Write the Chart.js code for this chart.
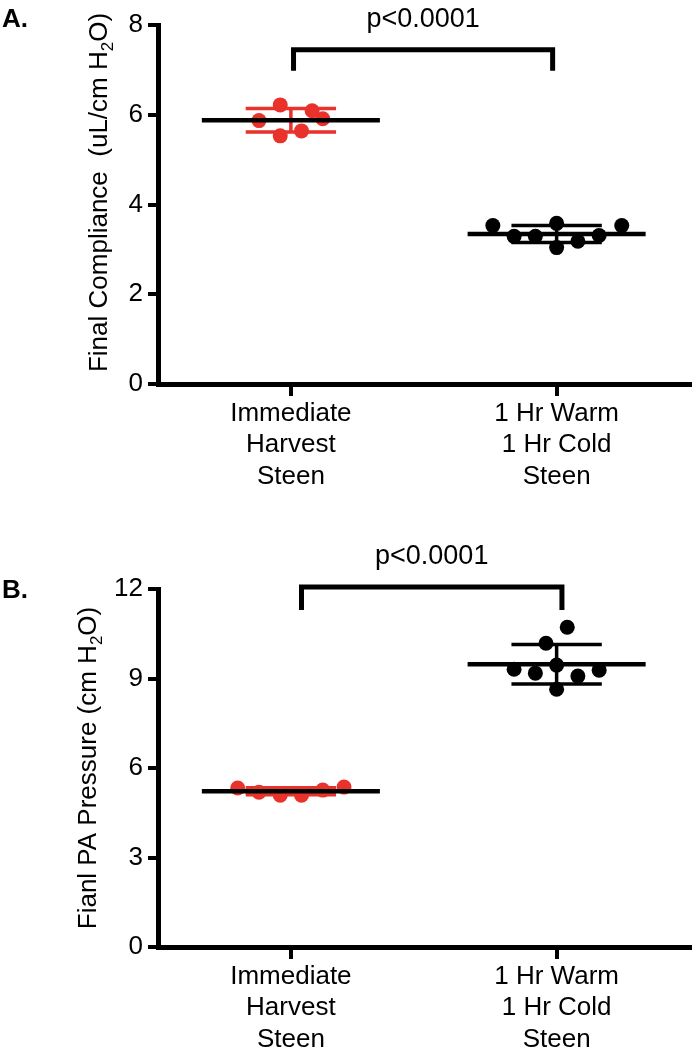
<!DOCTYPE html>
<html>
<head>
<meta charset="utf-8">
<script src="https://cdn.jsdelivr.net/npm/chart.js@4.4.0/dist/chart.umd.min.js"></script>
<style>
  html, body { margin: 0; padding: 0; background: #fff; overflow: hidden; }
  canvas { position: absolute; left: 0; }
  #chartA { top: 0; }
  #chartB { top: 520px; }
</style>
</head>
<body>
<canvas id="chartA" width="697" height="520"></canvas>
<canvas id="chartB" width="697" height="560"></canvas>
<script>
// Group names on the x axis (one line per array entry)
const groupLabels = [
  ["Immediate", "Harvest", "Steen"],
  ["1 Hr Warm", "1 Hr Cold", "Steen"],
];

// Panel A: final compliance (uL/cm H2O)
const complianceHarvest = [5.87, 6.22, 5.53, 5.64, 6.09, 5.91];
const complianceWarmCold = [3.53, 3.29, 3.29, 3.58, 3.04, 3.18, 3.31, 3.53];
const complianceTicks = [0, 2, 4, 6, 8];

// Panel B: final PA pressure (cm H2O)
const pressureHarvest = [5.33, 5.19, 5.09, 5.09, 5.26, 5.36];
const pressureWarmCold = [10.72, 10.18, 9.45, 9.31, 9.18, 9.08, 9.28, 8.64];
const pressureTicks = [0, 3, 6, 9, 12];

// Horizontal scatter of the dots inside each group, in x units
const spreadHarvestA = [-0.12, -0.04, -0.04, 0.04, 0.08, 0.12];
const spreadWarmColdA = [-0.24, -0.16, -0.08, 0, 0, 0.08, 0.16, 0.245];
const spreadHarvestB = [-0.2, -0.12, -0.04, 0.04, 0.12, 0.2];
const spreadWarmColdB = [0.04, -0.04, 0, -0.16, -0.08, 0.08, 0.16, 0];

const pValue = "p<0.0001";

const fontFamily = "'Liberation Sans', Arial, Helvetica, sans-serif";
const red = "#e8322b";

// Build scatter points for one group
function groupPoints(center, spread, values) {
  return values.map((v, i) => ({ x: center + spread[i], y: v }));
}

// Mean line and SD whiskers drawn over each group
const meanSdPlugin = {
  id: "meanSd",
  afterDatasetsDraw(chart) {
    const { ctx, scales } = chart;
    const x = scales.x, y = scales.y;
    chart.data.datasets.forEach((ds) => {
      const vals = ds.data.map((p) => p.y);
      const n = vals.length;
      const mean = vals.reduce((s, v) => s + v, 0) / n;
      const sd = Math.sqrt(vals.reduce((s, v) => s + (v - mean) * (v - mean), 0) / (n - 1));
      const cx = x.getPixelForValue(ds.center);
      const capL = x.getPixelForValue(ds.center - 0.17);
      const capR = x.getPixelForValue(ds.center + 0.17);
      const yHi = y.getPixelForValue(mean + sd);
      const yLo = y.getPixelForValue(mean - sd);
      ctx.save();
      ctx.strokeStyle = ds.backgroundColor;
      ctx.lineWidth = 3.5;
      ctx.beginPath();
      ctx.moveTo(cx, yHi); ctx.lineTo(cx, yLo);
      ctx.moveTo(capL, yHi); ctx.lineTo(capR, yHi);
      ctx.moveTo(capL, yLo); ctx.lineTo(capR, yLo);
      ctx.stroke();
      // mean
      const ym = y.getPixelForValue(mean);
      ctx.strokeStyle = "#000";
      ctx.lineWidth = 4.5;
      ctx.beginPath();
      ctx.moveTo(x.getPixelForValue(ds.center - 0.335), ym);
      ctx.lineTo(x.getPixelForValue(ds.center + 0.335), ym);
      ctx.stroke();
      ctx.restore();
    });
  },
};

// Rotated y title with a subscript 2
function drawTitle(ctx, parts, px, py) {
  const big = "26px " + fontFamily;
  const small = "17px " + fontFamily;
  ctx.save();
  ctx.translate(px, py);
  ctx.rotate(-Math.PI / 2);
  const widths = parts.map((p, i) => {
    ctx.font = i === 1 ? small : big;
    return ctx.measureText(p).width;
  });
  let cx = -widths.reduce((a, b) => a + b, 0) / 2;
  ctx.fillStyle = "#000";
  ctx.textAlign = "left";
  ctx.textBaseline = "alphabetic";
  parts.forEach((p, i) => {
    ctx.font = i === 1 ? small : big;
    ctx.fillText(p, cx, i === 1 ? 6 : 0);
    cx += widths[i];
  });
  ctx.restore();
}

// Significance bracket, panel letter and axis title
const decorPlugin = {
  id: "decor",
  afterDraw(chart, args, o) {
    const { ctx, scales } = chart;
    const x = scales.x, y = scales.y;
    const xl = x.getPixelForValue(o.bracketFrom);
    const xr = x.getPixelForValue(o.bracketTo);
    const yt = y.getPixelForValue(o.bracketTop);
    const yb = y.getPixelForValue(o.bracketLeg);
    ctx.save();
    ctx.strokeStyle = "#000";
    ctx.lineWidth = 5;
    ctx.lineJoin = "miter";
    ctx.beginPath();
    ctx.moveTo(xl, yb); ctx.lineTo(xl, yt); ctx.lineTo(xr, yt); ctx.lineTo(xr, yb);
    ctx.stroke();

    ctx.fillStyle = "#000";
    ctx.font = "27px " + fontFamily;
    ctx.textAlign = "center";
    ctx.textBaseline = "alphabetic";
    ctx.fillText(pValue, (xl + xr) / 2, yt - 23);

    ctx.font = "bold 26px " + fontFamily;
    ctx.textAlign = "left";
    ctx.fillText(o.letter, 2, o.letterBaseline);
    ctx.restore();

    drawTitle(ctx, o.title, o.titleX, (y.top + y.bottom) / 2 + o.titleShift);
  },
};

function makePanel(canvasId, cfg) {
  const tickFont = { family: fontFamily, size: 26 };
  return new Chart(document.getElementById(canvasId), {
    type: "scatter",
    data: {
      datasets: [
        {
          data: groupPoints(1, cfg.spreadA, cfg.harvest),
          center: 1,
          backgroundColor: red,
          borderWidth: 0,
          pointRadius: 7.5,
        },
        {
          data: groupPoints(2, cfg.spreadB, cfg.warmCold),
          center: 2,
          backgroundColor: "#000",
          borderWidth: 0,
          pointRadius: 7.5,
        },
      ],
    },
    options: {
      responsive: false,
      animation: false,
      layout: { padding: { top: cfg.top, right: 1, left: 0, bottom: 0 } },
      scales: {
        x: {
          type: "linear",
          min: 0.5,
          max: 2.5,
          afterBuildTicks: (s) => { s.ticks = [{ value: 1 }, { value: 2 }]; },
          afterFit: (s) => { s.height = cfg.xHeight; },
          ticks: {
            callback: (v) => groupLabels[Math.round(v) - 1],
            font: { ...tickFont, lineHeight: "31.5px" },
            color: "#000",
            padding: 2,
            maxRotation: 0,
            autoSkip: false,
          },
          grid: { drawOnChartArea: false, tickLength: 12, lineWidth: 4, color: "#000" },
          border: { display: true, width: 5, color: "#000" },
        },
        y: {
          min: 0,
          max: cfg.ticks[cfg.ticks.length - 1],
          afterBuildTicks: (s) => { s.ticks = cfg.ticks.map((v) => ({ value: v })); },
          afterFit: (s) => { s.width = 158; },
          ticks: { font: tickFont, color: "#000", padding: 5 },
          grid: { drawOnChartArea: false, tickLength: 10, lineWidth: 4, color: "#000" },
          border: { display: true, width: 5, color: "#000" },
        },
      },
      plugins: {
        legend: { display: false },
        tooltip: { enabled: false },
        decor: cfg.decor,
      },
    },
    plugins: [meanSdPlugin, decorPlugin],
  });
}

makePanel("chartA", {
  harvest: complianceHarvest,
  warmCold: complianceWarmCold,
  spreadA: spreadHarvestA,
  spreadB: spreadWarmColdA,
  ticks: complianceTicks,
  top: 25,
  xHeight: 136,
  decor: {
    bracketFrom: 1.01, bracketTo: 1.985, bracketTop: 7.45, bracketLeg: 6.98,
    letter: "A.", letterBaseline: 27,
    title: ["Final Compliance  (uL/cm H", "2", "O)"], titleX: 107, titleShift: -12,
  },
});

makePanel("chartB", {
  harvest: pressureHarvest,
  warmCold: pressureWarmCold,
  spreadA: spreadHarvestB,
  spreadB: spreadWarmColdB,
  ticks: pressureTicks,
  top: 69,
  xHeight: 133,
  decor: {
    bracketFrom: 1.04, bracketTo: 2.02, bracketTop: 12.07, bracketLeg: 11.3,
    letter: "B.", letterBaseline: 78,
    title: ["Fianl PA Pressure (cm H", "2", "O)"], titleX: 96, titleShift: 0,
  },
});
</script>
</body>
</html>
